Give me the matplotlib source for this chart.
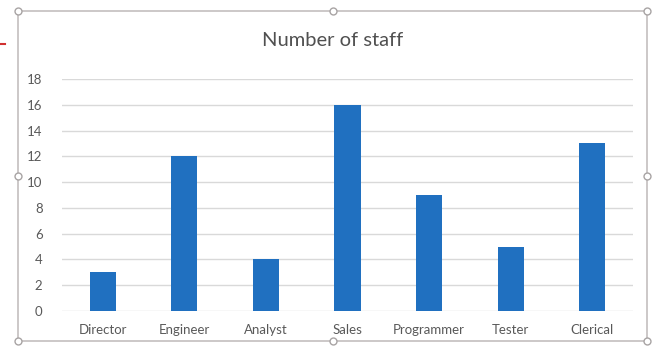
import matplotlib
matplotlib.use("Agg")
import matplotlib.pyplot as plt
from matplotlib.lines import Line2D

categories = ["Director", "Engineer", "Analyst", "Sales", "Programmer", "Tester", "Clerical"]
staff = [3, 12, 4, 16, 9, 5, 13]
y_ticks = [0, 2, 4, 6, 8, 10, 12, 14, 16, 18]

W, H = 656, 346
BAR = "#2070c0"
TXT = "#595959"
GRID = "#d9d9d9"

plt.rcParams["font.family"] = ["Lato", "DejaVu Sans"]

fig = plt.figure(figsize=(W / 100, H / 100), dpi=100)
fig.patch.set_facecolor("white")

# plot area: gridlines span x 62..633, y=0 at 311, y=18 at 79 (pixels)
ax = fig.add_axes([62 / W, (H - 311) / H, (633 - 62) / W, (311 - 79) / H])
ax.bar(range(len(categories)), staff, width=0.32, color=BAR, zorder=3)
ax.set_xlim(-0.5, len(categories) - 0.5)
ax.set_ylim(0, 18)
ax.set_yticks(y_ticks)
ax.set_xticks(range(len(categories)))
ax.set_xticklabels(categories)
ax.tick_params(axis="both", length=0, labelsize=9.5, colors=TXT)
ax.tick_params(axis="y", pad=14)
ax.tick_params(axis="x", pad=9)
ax.grid(axis="y", color=GRID, linewidth=1, zorder=0)
for s in ax.spines.values():
    s.set_visible(False)
ax.set_facecolor("none")

fig.text(333 / W, 1 - 40 / H, "Number of staff", ha="center", va="center",
         fontsize=14.5, color="#505050")

# chart frame with selection handles
L, R, T, B = 18 / W, 647 / W, 1 - 11 / H, 1 - 341 / H
fig.add_artist(Line2D([L, R, R, L, L], [T, T, B, B, T], transform=fig.transFigure,
                      color="#c8c4c4", linewidth=1.3))
mx, my = (L + R) / 2, (T + B) / 2
hx = [L, mx, R, L, R, L, mx, R]
hy = [T, T, T, my, my, B, B, B]
fig.add_artist(Line2D(hx, hy, transform=fig.transFigure, linestyle="none",
                      marker="o", markersize=5, markerfacecolor="white",
                      markeredgecolor="#a8a4a4", markeredgewidth=1))

# small red pointer at the left edge
fig.add_artist(Line2D([0, 5 / W], [1 - 44 / H, 1 - 44 / H], transform=fig.transFigure,
                      color="#d03030", linewidth=1.5))

fig.savefig("out.png", dpi=100)
